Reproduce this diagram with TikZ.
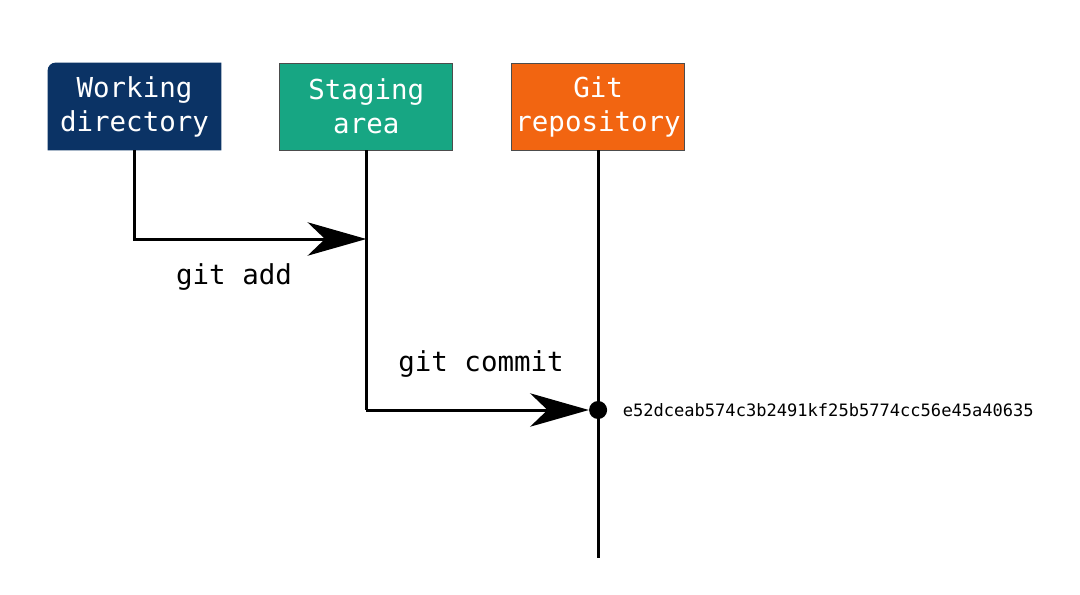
\documentclass[tikz,border=0pt]{standalone}
\usepackage{fontspec}
\setmonofont{DejaVu Sans Mono}
\usetikzlibrary{arrows.meta,positioning,backgrounds}
\definecolor{wdnavy}{HTML}{0B3365}
\definecolor{stagegreen}{HTML}{17A683}
\definecolor{repoorange}{HTML}{F26511}

\begin{document}
\begin{tikzpicture}[x=0.75pt, y=-0.75pt,
  area/.style={line width=0.6pt, rectangle,
               minimum width=129.75pt, minimum height=65.25pt, inner sep=0pt,
               font=\ttfamily\fontsize{20.6}{25.5}\selectfont, align=center, text=white},
  lbl/.style={font=\ttfamily\fontsize{20.6}{25.5}\selectfont},
  flow/.style={line width=2.25pt},
  arr/.style={flow, -{Stealth[length=44pt, width=25pt, inset=13pt]}},
  commit/.style={circle, fill=black, minimum size=13.5pt, inner sep=0pt}
]
  \useasboundingbox (0,0) rectangle (1080,594);

  %% Areas
  \node[area] (wd) at (134.5,106.5) {Working\\directory};
  \node[area, draw=black!70, fill=stagegreen, right=43.5pt of wd] (stage) {Staging\\area};
  \node[area, draw=black!70, fill=repoorange, right=43.5pt of stage] (repo) {Git\\repository};

  %% Background and the one rounded corner
  \begin{scope}[on background layer]
    \fill[white] (0,0) rectangle (1080,594);
    \fill[wdnavy] (wd.south west) [rounded corners=6pt] -- (wd.north west)
      [sharp corners] -- (wd.north east) -- (wd.south east) -- cycle;
  \end{scope}

  %% Points on the time lines
  \coordinate (added) at (stage.south |- 0,239);
  \node[commit] (c1) at (repo.south |- 0,410) {};
  \coordinate (repoend) at (repo.south |- 0,558);
  \coordinate (stageend) at (stage.south |- 0,410);

  %% Labels
  \node[lbl] (addlbl) at (234,277) {git add};
  \node[lbl] (commitlbl) at (481,364) {git commit};
  \node[font=\ttfamily\fontsize{12.8}{16}\selectfont,
        right=8pt of c1] (hash) {e52dceab574c3b2491kf25b5774cc56e45a40635};

  %% Arrows
  \draw[flow] (repo.south) -- (repoend);
  \draw[flow] (stage.south) -- (stageend);
  \draw[arr] (wd.south) |- (added);
  \draw[arr] (stageend) -- (c1.west);
\end{tikzpicture}
\end{document}
